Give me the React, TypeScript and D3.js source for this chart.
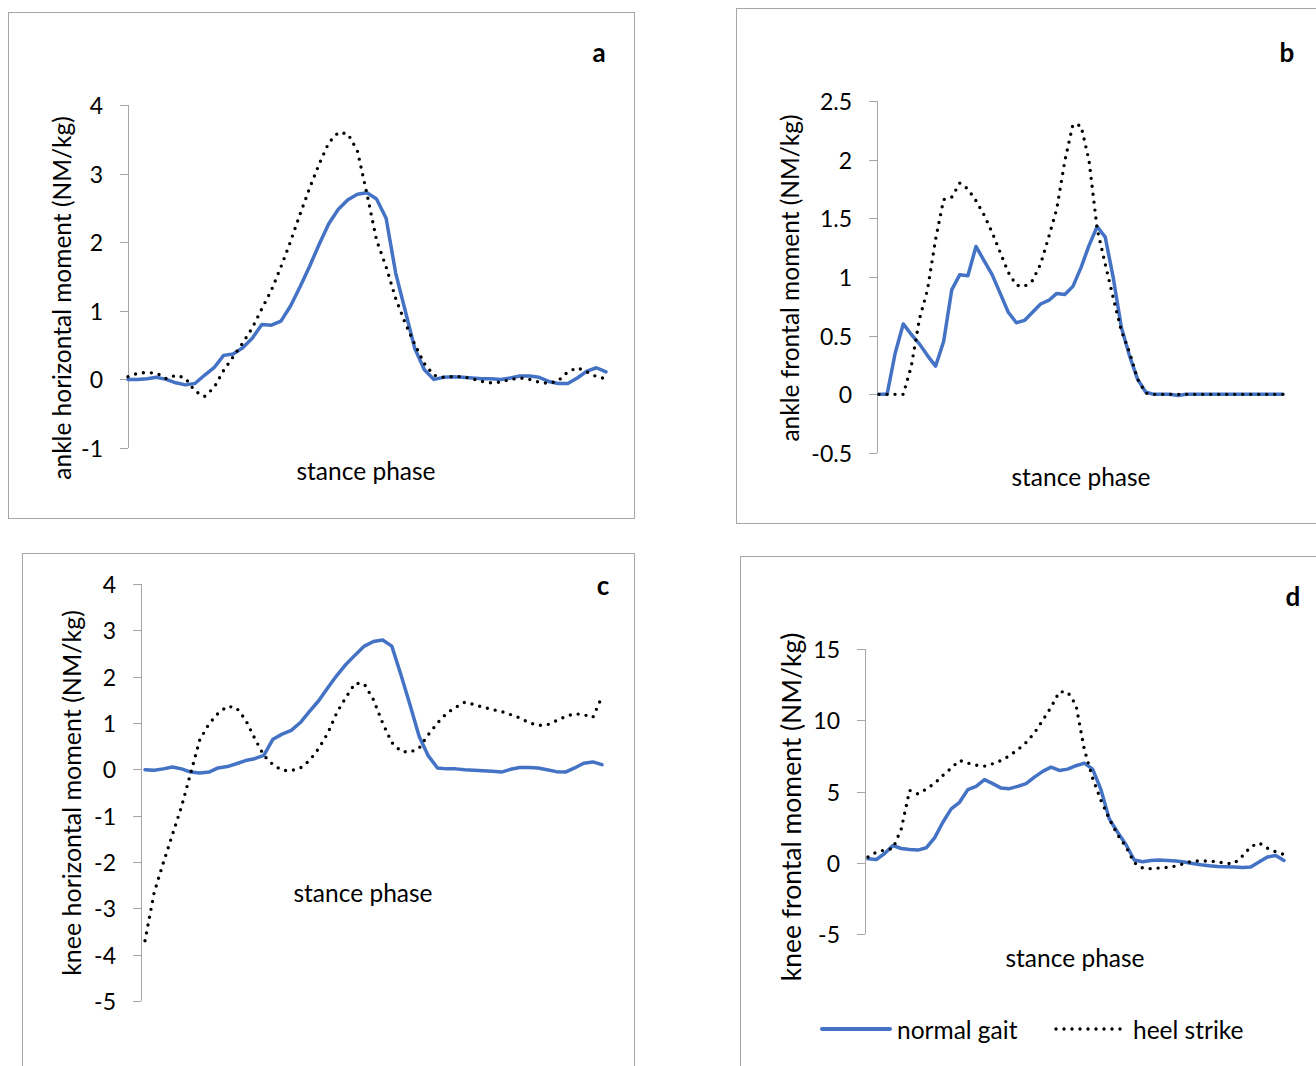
import React from 'react';
import * as d3 from 'd3';

// stance phase categories (% of stance)
const stance = d3.range(0, 101, 2);

// a: ankle horizontal moment
const ankleHorizNormal = [0.00,0.00,0.01,0.03,0.00,-0.05,-0.08,-0.06,0.06,0.17,0.35,0.37,0.46,0.60,0.80,0.79,0.85,1.07,1.35,1.65,1.97,2.27,2.48,2.62,2.70,2.72,2.63,2.35,1.55,1.00,0.45,0.14,0.00,0.03,0.04,0.03,0.02,0.01,0.01,0.00,0.02,0.05,0.05,0.03,-0.03,-0.06,-0.06,0.02,0.12,0.17,0.11];
const ankleHorizHeel = [0.04,0.09,0.10,0.09,0.01,0.06,0.02,-0.17,-0.25,-0.12,0.13,0.33,0.53,0.75,1.03,1.30,1.64,2.01,2.41,2.79,3.14,3.45,3.60,3.58,3.33,2.70,2.03,1.64,1.18,0.82,0.51,0.23,0.06,0.03,0.04,0.04,0.01,-0.03,-0.05,-0.04,0.00,0.02,0.00,-0.04,-0.06,-0.02,0.11,0.17,0.11,0.04,0.01];

// b: ankle frontal moment
const ankleFrontalNormal = [0,0,0.35,0.60,0.51,0.43,0.33,0.24,0.45,0.89,1.02,1.01,1.26,1.14,1.02,0.86,0.70,0.61,0.63,0.70,0.77,0.80,0.86,0.85,0.92,1.08,1.27,1.43,1.34,0.99,0.57,0.33,0.13,0.02,0,0,0,-0.01,0,0,0,0,0,0,0,0,0,0,0,0,0];
const ankleFrontalHeel = [0,0,0,0,0.24,0.64,0.89,1.32,1.66,1.68,1.80,1.75,1.65,1.53,1.38,1.21,1.04,0.93,0.92,0.97,1.11,1.34,1.58,1.99,2.30,2.29,1.99,1.41,1.11,0.82,0.54,0.36,0.13,0.01,0,0,0,0,0,0,0,0,0,0,0,0,0,0,0,0,0];

// c: knee horizontal moment
const kneeHorizNormal = [-0.01,-0.02,0.01,0.05,0.01,-0.06,-0.08,-0.06,0.03,0.06,0.12,0.19,0.23,0.30,0.65,0.76,0.84,1.01,1.25,1.48,1.76,2.03,2.27,2.47,2.66,2.76,2.79,2.66,2.04,1.39,0.71,0.29,0.03,0.01,0.01,-0.01,-0.02,-0.03,-0.04,-0.06,0.00,0.04,0.04,0.03,-0.01,-0.05,-0.06,0.03,0.13,0.16,0.10];
const kneeHorizHeel = [-3.70,-2.66,-2.02,-1.41,-0.80,-0.08,0.64,0.98,1.21,1.36,1.33,1.07,0.67,0.30,0.10,-0.02,-0.03,0.03,0.19,0.45,0.78,1.23,1.56,1.86,1.84,1.50,1.00,0.58,0.39,0.37,0.46,0.75,1.00,1.21,1.34,1.45,1.40,1.34,1.29,1.25,1.18,1.11,1.01,0.95,0.96,1.05,1.14,1.20,1.18,1.12,1.57];

// d: knee frontal moment
const kneeFrontalNormal = [0.28,0.23,0.65,1.21,1.00,0.93,0.89,1.05,1.75,2.84,3.78,4.24,5.13,5.36,5.83,5.55,5.24,5.20,5.36,5.55,6.01,6.41,6.71,6.48,6.57,6.81,6.99,6.57,5.13,3.08,2.14,1.28,0.19,0.07,0.16,0.19,0.16,0.12,0.05,-0.05,-0.14,-0.21,-0.26,-0.28,-0.30,-0.33,-0.30,0.05,0.40,0.51,0.16];
const kneeFrontalHeel = [0.40,0.75,0.89,1.00,2.38,5.08,4.83,5.17,5.57,6.13,6.64,7.18,6.99,6.85,6.78,6.95,7.18,7.51,7.93,8.44,9.11,10.00,10.91,12.00,11.98,11.07,7.95,5.94,4.38,3.08,1.96,1.12,0.00,-0.37,-0.42,-0.37,-0.33,-0.23,-0.05,0.12,0.12,0.12,0.07,-0.05,-0.05,0.47,1.12,1.40,1.03,0.77,0.58];

const ticksA = [-1, 0, 1, 2, 3, 4];
const ticksB = [-0.5, 0, 0.5, 1, 1.5, 2, 2.5];
const ticksC = [-5, -4, -3, -2, -1, 0, 1, 2, 3, 4];
const ticksD = [-5, 0, 5, 10, 15];

const seriesNames = ['normal gait', 'heel strike'];
const xLabel = 'stance phase';

const BLUE = '#4472C4';
const FONT = 'Lato, Carlito, "Noto Sans", sans-serif';

const panels = [
  { id: 'a', frame: [8, 12, 626, 506], axisX: 128, yTop: 105, yBot: 448, ticks: ticksA,
    x0: 128, x1: 606, normal: ankleHorizNormal, heel: ankleHorizHeel,
    title: 'ankle horizontal moment (NM/kg)', titleX: 61, titleY: 298, titleSize: 24.5,
    stanceX: 366, stanceY: 470, letterX: 599, letterY: 52 },
  { id: 'b', frame: [736, 8, 590, 515], axisX: 877, yTop: 101, yBot: 453, ticks: ticksB,
    x0: 879, x1: 1283, normal: ankleFrontalNormal, heel: ankleFrontalHeel,
    title: 'ankle frontal moment (NM/kg)', titleX: 789, titleY: 278, titleSize: 24.5,
    stanceX: 1081, stanceY: 476, letterX: 1287, letterY: 52 },
  { id: 'c', frame: [22, 553, 612, 530], axisX: 141, yTop: 584, yBot: 1001, ticks: ticksC,
    x0: 145, x1: 602, normal: kneeHorizNormal, heel: kneeHorizHeel,
    title: 'knee horizontal moment (NM/kg)', titleX: 71, titleY: 793, titleSize: 25,
    stanceX: 363, stanceY: 892, letterX: 603, letterY: 585 },
  { id: 'd', frame: [740, 556, 590, 530], axisX: 865, yTop: 649, yBot: 934, ticks: ticksD,
    x0: 868, x1: 1284, normal: kneeFrontalNormal, heel: kneeFrontalHeel,
    title: 'knee frontal moment (NM/kg)', titleX: 791, titleY: 807, titleSize: 26.5,
    stanceX: 1075, stanceY: 957, letterX: 1293, letterY: 596 },
];

function Panel({ p }: { p: any }) {
  const y = d3.scaleLinear().domain([p.ticks[0], p.ticks[p.ticks.length - 1]]).range([p.yBot, p.yTop]);
  const x = d3.scaleLinear().domain([0, 100]).range([p.x0, p.x1]);
  const lineGen = d3.line<number>().x((_, i) => x(stance[i])).y((v) => y(v));
  const [fx, fy, fw, fh] = p.frame;
  return (
    <g>
      <rect x={fx + 0.5} y={fy + 0.5} width={fw} height={fh} fill="#fff" stroke="#a6a6a6" strokeWidth={1} />
      <line x1={p.axisX + 0.5} x2={p.axisX + 0.5} y1={y.range()[1]} y2={y.range()[0]} stroke="#a6a6a6" strokeWidth={1} />
      {p.ticks.map((t: number) => (
        <g key={t}>
          <line x1={p.axisX - 8} x2={p.axisX} y1={Math.round(y(t)) + 0.5} y2={Math.round(y(t)) + 0.5} stroke="#a6a6a6" strokeWidth={1} />
          <text x={p.axisX - 25} y={y(t)} textAnchor="end" dominantBaseline="central" fontSize={23} fill="#000">{String(t)}</text>
        </g>
      ))}
      <path d={lineGen(p.normal) || ''} fill="none" stroke={BLUE} strokeWidth={3.5} strokeLinejoin="round" strokeLinecap="round" />
      <path d={lineGen(p.heel) || ''} fill="none" stroke="#000" strokeWidth={3.4} strokeDasharray="0 8" strokeLinecap="round" />
      <text x={p.stanceX} y={p.stanceY} textAnchor="middle" dominantBaseline="central" fontSize={24.5} fill="#000">{xLabel}</text>
      <text transform={`translate(${p.titleX},${p.titleY}) rotate(-90)`} textAnchor="middle" dominantBaseline="central" fontSize={p.titleSize} fill="#000">{p.title}</text>
      <text x={p.letterX} y={p.letterY} textAnchor="middle" dominantBaseline="central" fontSize={26} fontWeight="bold" fill="#000">{p.id}</text>
    </g>
  );
}

export default function App() {
  return (
    <svg width={1316} height={1066} style={{ position: 'absolute', left: 0, top: 0, fontFamily: FONT, background: '#fff' }}>
      <rect x={0} y={0} width={1316} height={1066} fill="#fff" />
      {panels.map((p) => <Panel key={p.id} p={p} />)}
      <g>
        <line x1={822} x2={890} y1={1029} y2={1029} stroke={BLUE} strokeWidth={4} strokeLinecap="round" />
        <text x={897} y={1029} dominantBaseline="central" fontSize={24.5} fill="#000">{seriesNames[0]}</text>
        <line x1={1056} x2={1128} y1={1029} y2={1029} stroke="#000" strokeWidth={3.4} strokeDasharray="0 8" strokeLinecap="round" />
        <text x={1133} y={1029} dominantBaseline="central" fontSize={24.5} fill="#000">{seriesNames[1]}</text>
      </g>
    </svg>
  );
}
